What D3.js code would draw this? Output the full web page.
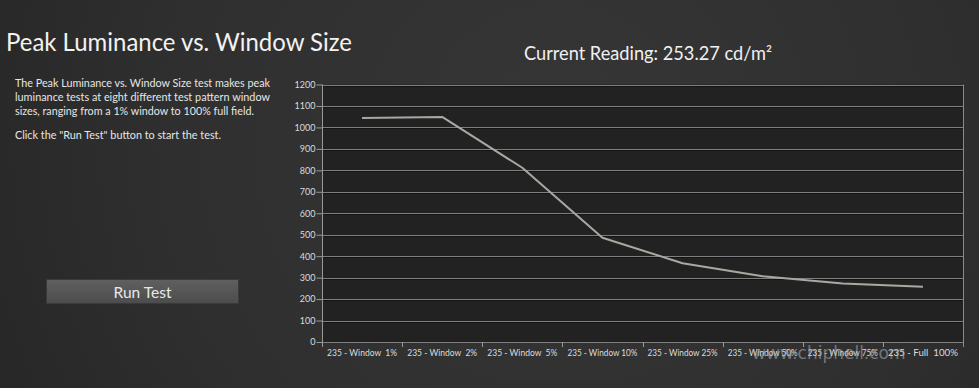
<!DOCTYPE html>
<html><head><meta charset="utf-8">
<script src="https://cdn.jsdelivr.net/npm/d3@7"></script>
<style>
html,body{margin:0;padding:0;background:#2d2d2d;overflow:hidden;}
svg{display:block;}
</style></head>
<body>
<svg id="c" width="979" height="388"></svg>
<script>
const categories = ["235 - Window  1%","235 - Window  2%","235 - Window  5%","235 - Window 10%","235 - Window 25%","235 - Window 50%","235 - Window 75%","235 - Full  100%"];
const luminance = [1044, 1049, 812, 486, 367, 306, 273, 258];
const yTicks = [0,100,200,300,400,500,600,700,800,900,1000,1100,1200];
const descLines = [
  "The Peak Luminance vs. Window Size test makes peak",
  "luminance tests at eight different test pattern window",
  "sizes, ranging from a 1% window to 100% full field.",
  'Click the "Run Test" button to start the test.'
];

const svg = d3.select("#c");
const W = 979, H = 388;
const defs = svg.append("defs");
const rg = defs.append("radialGradient").attr("id","bg").attr("gradientUnits","userSpaceOnUse")
  .attr("cx",560).attr("cy",140).attr("r",650);
rg.append("stop").attr("offset","0").attr("stop-color","#363636");
rg.append("stop").attr("offset","0.6").attr("stop-color","#2f2f2f");
rg.append("stop").attr("offset","1").attr("stop-color","#262626");
svg.append("rect").attr("width",W).attr("height",H).attr("fill","url(#bg)");

const font = "Lato, 'Open Sans', sans-serif";
function fit(sel, w){ sel.attr("textLength",w).attr("lengthAdjust","spacingAndGlyphs"); }

// title
const t = svg.append("text").attr("x",6).attr("y",51).attr("fill","#f2f2f2")
  .attr("font-family",font).attr("font-size",25).text("Peak Luminance vs. Window Size");
fit(t,346);

const dy=[87,101,115,139];
const dw=[255,255,239,206];
descLines.forEach((s,i)=>{
  const e = svg.append("text").attr("x",15).attr("y",dy[i]).attr("fill","#e6e6e6")
    .attr("font-family",font).attr("font-size",11).text(s);
  fit(e,dw[i]);
});

// current reading
const cr = svg.append("text").attr("x",524).attr("y",60).attr("fill","#f0f0f0")
  .attr("font-family",font).attr("font-size",18.5).text("Current Reading: 253.27 cd/m²");
fit(cr,248);

// button
const bg2 = defs.append("linearGradient").attr("id","btn").attr("x1",0).attr("y1",0).attr("x2",0).attr("y2",1);
bg2.append("stop").attr("offset",0).attr("stop-color","#606060");
bg2.append("stop").attr("offset",1).attr("stop-color","#4c4c4c");
svg.append("rect").attr("x",46.5).attr("y",279.5).attr("width",192).attr("height",24)
  .attr("fill","url(#btn)").attr("stroke","#3a3a3a");
svg.append("text").attr("x",142.5).attr("y",297.5).attr("text-anchor","middle").attr("fill","#e8e8e8")
  .attr("font-family",font).attr("font-size",15.5).text("Run Test");

// chart
const m = {l:322, r:963, t:84.5, b:342};
const x = d3.scaleBand().domain(categories).range([m.l,m.r]);
const y = d3.scaleLinear().domain([0,1200]).range([m.b,m.t]);

svg.append("rect").attr("x",m.l).attr("y",m.t).attr("width",m.r-m.l).attr("height",m.b-m.t).attr("fill","#222222");

const g = svg.append("g");
yTicks.forEach(v=>{
  const yy = Math.round(y(v));
  g.append("line").attr("x1",m.l).attr("x2",m.r).attr("y1",yy+0.5).attr("y2",yy+0.5).attr("stroke","#7e7e7e");
  if(v>0) g.append("line").attr("x1",m.l).attr("x2",m.r).attr("y1",yy+1.5).attr("y2",yy+1.5).attr("stroke","#141414");
});
// frame
g.append("line").attr("x1",m.l+0.5).attr("x2",m.l+0.5).attr("y1",m.t).attr("y2",m.b+5).attr("stroke","#9a9a9a");
g.append("line").attr("x1",m.r+0.5).attr("x2",m.r+0.5).attr("y1",m.t).attr("y2",m.b+5).attr("stroke","#8a8a8a");

// y axis
const ya = svg.append("g").attr("transform",`translate(${m.l+0.5},0)`)
  .call(d3.axisLeft(y).tickValues(yTicks).tickSize(6).tickPadding(1).tickFormat(d3.format("d")));
ya.select(".domain").remove();
ya.selectAll(".tick line").attr("stroke","#9a9a9a");
ya.selectAll(".tick text").attr("fill","#dcdcdc").attr("font-family",font).attr("font-size",9);

// x axis with boundary ticks
const xa = svg.append("g").attr("transform",`translate(0,${m.b+0.5})`)
  .call(d3.axisBottom(x).tickSize(0).tickPadding(7));
xa.select(".domain").remove();
xa.selectAll(".tick text").attr("fill","#dcdcdc").attr("font-family",font).attr("font-size",9.5)
  .style("white-space","pre").attr("textLength",70).attr("lengthAdjust","spacingAndGlyphs");
categories.forEach((c,i)=>{
  const xx = Math.round(x(c))+0.5;
  svg.append("line").attr("x1",xx).attr("x2",xx).attr("y1",m.b).attr("y2",m.b+5).attr("stroke","#9a9a9a");
});

// line
const line = d3.line().x((d,i)=>x(categories[i])+x.bandwidth()/2).y(d=>y(d));
svg.append("path").datum(luminance).attr("d",line).attr("fill","none")
  .attr("stroke","#a9a9a2").attr("stroke-width",2).attr("stroke-linejoin","round");

// watermark
svg.append("text").attr("x",752).attr("y",359).attr("fill","#bbbbbb").attr("opacity",0.5)
  .attr("font-family","'DejaVu Sans', sans-serif").attr("font-size",17).text("www.chiphell.com");
</script>
</body></html>
